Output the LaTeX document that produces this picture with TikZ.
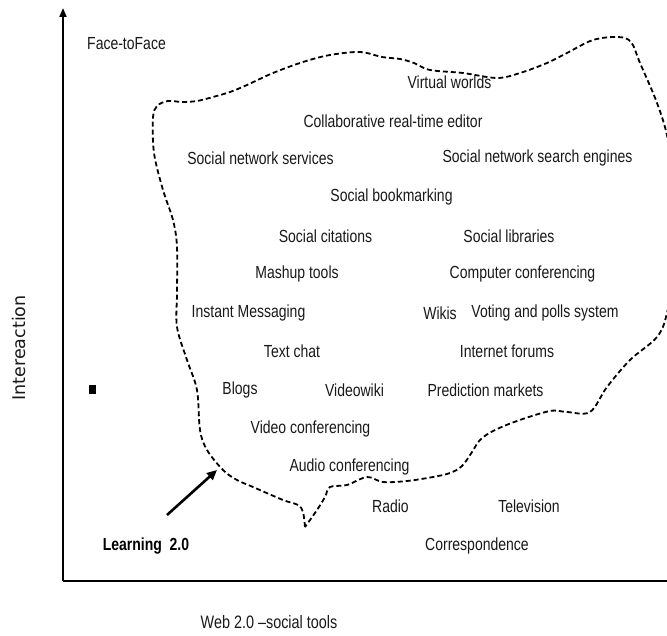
\documentclass[tikz,border=0pt]{standalone}
\usepackage{fontspec}
\setmainfont[FakeStretch=0.8]{Liberation Sans}
\newfontfamily\axisfont{DejaVu Sans}
\usetikzlibrary{arrows.meta}

\tikzset{
  tool/.style={font=\fontsize{17.5}{18}\selectfont, text=black!90, inner sep=0pt},
  axisline/.style={line width=2pt},
  zone/.style={line width=1.8pt, dash pattern=on 5pt off 3pt, line cap=butt},
  pointer/.style={line width=2.6pt, -{Triangle[length=10pt,width=9pt]}},
}

\begin{document}
\begin{tikzpicture}[x=1pt,y=-1pt]
\clip (0,0) rectangle (667,636);
\fill[white] (0,0) rectangle (667,636);

% axes
\coordinate (origin) at (63,581);
\coordinate (ytop) at (63,8);
\coordinate (xend) at (690,581);
\draw[axisline] (origin) -- (xend);
\draw[axisline, -{Triangle[length=9pt,width=7pt]}] (origin) -- (ytop);

% axis titles
\node[tool, font=\axisfont\fontsize{17.5}{18}\selectfont, rotate=90] (ylab) at (19,348) {Intereaction};
\node[tool, font=\fontsize{18}{19}\selectfont] (xlab) at (269,622) {Web 2.0 --social tools};

% small marker on the vertical axis side
\node[fill=black, minimum width=7pt, minimum height=9pt, inner sep=0pt] (mark) at (92,390) {};

% region of Web 2.0 social tools
\draw[zone] plot[smooth, tension=0.55] coordinates {
 (305,527) (303,512) (298,505) (283,500) (253,487) (237,480) (223,470)
 (207,450) (200,430) (197,390) (187,360) (177,327) (177,293) (177,247)
 (173,220) (163,190) (154,153) (153,118) (157,106) (168,101) (182,102)
 (197,101) (213,97) (230,92) (247,85) (273,73) (303,62) (330,55) (360,52)
 (382,57) (400,59) (414,63) (430,70) (463,73) (497,78) (520,73) (547,63)
 (567,53) (593,40) (618,37) (631,42) (640,63) (657,103) (668,140)
 (676,200) (676,260) (667,313) (657,337) (630,360) (607,387) (590,412)
 (567,412) (550,411) (517,421) (493,431) (480,440) (472,452) (462,466)
 (450,473) (433,477) (407,481) (383,482) (367,477) (347,485) (330,487)
 (325,497) (317,510) (305,527)};

% tools
\node[tool] (f2f)   at (126.5,44)  {Face-toFace};
\node[tool] (vw)    at (449.5,82)  {Virtual worlds};
\node[tool] (cre)   at (393,121)   {Collaborative real-time editor};
\node[tool] (sns)   at (260.5,158) {Social network services};
\node[tool] (snse)  at (537.5,158) {Social network search engines};
\node[tool] (sbm)   at (391.5,197) {Social bookmarking};
\node[tool] (scit)  at (325.5,236) {Social citations};
\node[tool] (slib)  at (509,236)   {Social libraries};
\node[tool] (mash)  at (297,274)   {Mashup tools};
\node[tool] (ccon)  at (522.5,274) {Computer conferencing};
\node[tool] (im)    at (248.5,313) {Instant Messaging};
\node[tool] (wiki)  at (440,313)   {Wikis};
\node[tool] (vote)  at (545,313)   {Voting and polls system};
\node[tool] (chat)  at (292,351)   {Text chat};
\node[tool] (forum) at (507,351)   {Internet forums};
\node[tool] (blog)  at (240,390)   {Blogs};
\node[tool] (vwiki) at (354.5,390) {Videowiki};
\node[tool] (pred)  at (485.5,390) {Prediction markets};
\node[tool] (vcon)  at (310.5,429) {Video conferencing};
\node[tool] (acon)  at (349.5,467) {Audio conferencing};
\node[tool] (radio) at (390.5,506) {Radio};
\node[tool] (tv)    at (529,506)   {Television};
\node[tool] (corr)  at (477,546)   {Correspondence};
\node[tool, font=\fontsize{17.5}{18}\selectfont\bfseries, text=black] (learn) at (146,546) {Learning~~2.0};

% pointer from the label into the region
\coordinate (ptail) at (167,515);
\coordinate (phead) at (217,470);
\draw[pointer] (ptail) -- (phead);
\end{tikzpicture}
\end{document}
